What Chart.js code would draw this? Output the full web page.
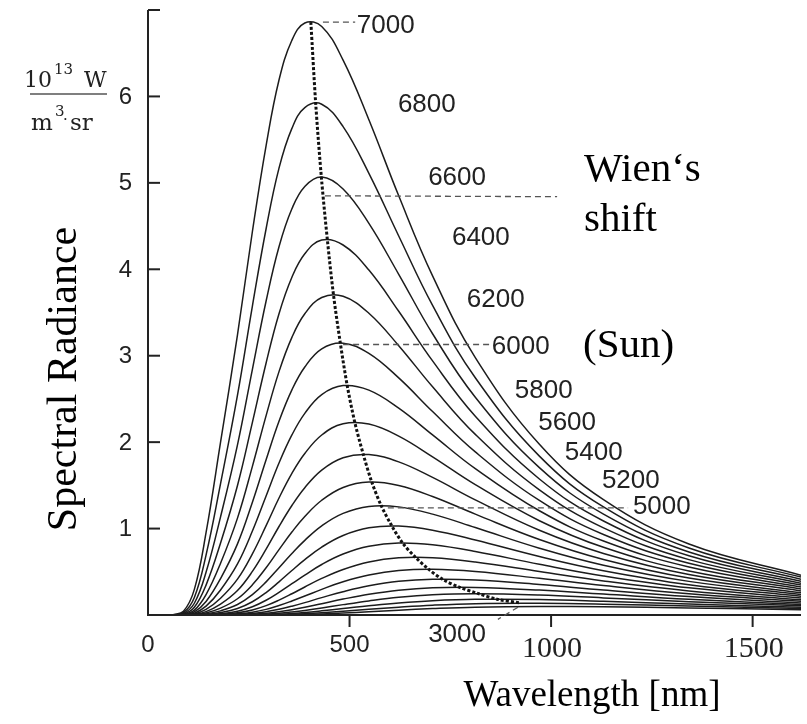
<!DOCTYPE html>
<html>
<head>
<meta charset="utf-8">
<title>Spectral Radiance</title>
<script src="https://cdn.jsdelivr.net/npm/chart.js@4.4.1/dist/chart.umd.min.js"></script>
<style>
    body { margin: 0; background: #ffffff; }
    canvas { display: block; }
</style>
</head>
<body>
<canvas id="myChart" width="807" height="724"></canvas>
<script>
// wavelength positions on the axis (nm), shared by all curves
var wavelengths = [60, 88, 115, 144, 180, 222, 259, 293, 325, 357, 389, 431, 484, 548, 622, 706, 812, 971, 1130, 1342, 1620];

var temperatures = [7000, 6800, 6600, 6400, 6200, 6000, 5800, 5600, 5400, 5200, 5000, 4800, 4600, 4400, 4200, 4000, 3800, 3600, 3400, 3200, 3000];

// radiance in 10^13 W/(m^3 sr), one array per temperature
var k7000 = [0, 0.043, 0.296, 0.952, 2.000, 3.240, 4.437, 5.432, 6.190, 6.650, 6.850, 6.810, 6.420, 5.730, 4.850, 3.924, 2.979, 1.975, 1.334, 0.821, 0.461];
var k6800 = [0, 0.027, 0.203, 0.693, 1.520, 2.544, 3.575, 4.469, 5.170, 5.630, 5.870, 5.910, 5.650, 5.110, 4.385, 3.582, 2.745, 1.838, 1.250, 0.775, 0.438];
var k6600 = [0, 0.017, 0.136, 0.494, 1.136, 1.968, 2.843, 3.633, 4.261, 4.700, 4.959, 5.068, 4.929, 4.531, 3.942, 3.254, 2.519, 1.705, 1.168, 0.729, 0.414];
var k6400 = [0, 0.010, 0.089, 0.346, 0.833, 1.499, 2.229, 2.916, 3.486, 3.908, 4.180, 4.338, 4.281, 3.991, 3.514, 2.940, 2.300, 1.574, 1.088, 0.685, 0.391];
var k6200 = [0, 0.006, 0.056, 0.236, 0.599, 1.121, 1.720, 2.307, 2.816, 3.212, 3.485, 3.674, 3.688, 3.491, 3.116, 2.640, 2.090, 1.448, 1.008, 0.641, 0.368];
var k6000 = [0, 0.003, 0.035, 0.157, 0.422, 0.823, 1.305, 1.797, 2.242, 2.605, 2.870, 3.080, 3.145, 3.027, 2.743, 2.354, 1.887, 1.325, 0.931, 0.598, 0.346];
var k5800 = [0, 0, 0.021, 0.102, 0.290, 0.591, 0.971, 1.377, 1.758, 2.083, 2.333, 2.550, 2.654, 2.602, 2.394, 2.084, 1.693, 1.206, 0.856, 0.556, 0.323];
var k5600 = [0, 0, 0.012, 0.064, 0.194, 0.415, 0.708, 1.034, 1.354, 1.639, 1.869, 2.083, 2.212, 2.209, 2.070, 1.830, 1.508, 1.091, 0.783, 0.510, 0.301];
var k5400 = [0, 0, 0.007, 0.039, 0.126, 0.283, 0.504, 0.761, 1.024, 1.267, 1.473, 1.677, 1.820, 1.856, 1.772, 1.592, 1.332, 0.980, 0.712, 0.469, 0.279];
var k5200 = [0, 0, 0.004, 0.023, 0.079, 0.188, 0.349, 0.547, 0.757, 0.960, 1.140, 1.328, 1.476, 1.538, 1.499, 1.371, 1.167, 0.874, 0.643, 0.428, 0.258];
var k5000 = [0, 0, 0.002, 0.013, 0.048, 0.121, 0.235, 0.383, 0.547, 0.712, 0.864, 1.032, 1.176, 1.256, 1.251, 1.167, 1.012, 0.773, 0.576, 0.389, 0.237];
var k4800 = [0, 0, 0, 0.007, 0.028, 0.075, 0.153, 0.260, 0.384, 0.515, 0.640, 0.786, 0.920, 1.009, 1.029, 0.981, 0.868, 0.677, 0.513, 0.351, 0.217];
var k4600 = [0, 0, 0, 0.003, 0.015, 0.044, 0.096, 0.171, 0.262, 0.362, 0.462, 0.584, 0.705, 0.795, 0.833, 0.812, 0.735, 0.587, 0.452, 0.314, 0.197];
var k4400 = [0, 0, 0, 0.002, 0.008, 0.025, 0.058, 0.108, 0.172, 0.246, 0.324, 0.423, 0.527, 0.614, 0.661, 0.662, 0.613, 0.503, 0.394, 0.279, 0.177];
var k4200 = [0, 0, 0, 0, 0.004, 0.014, 0.033, 0.065, 0.109, 0.162, 0.219, 0.297, 0.384, 0.462, 0.514, 0.529, 0.503, 0.425, 0.340, 0.245, 0.158];
var k4000 = [0, 0, 0, 0, 0.002, 0.007, 0.018, 0.038, 0.066, 0.102, 0.143, 0.201, 0.270, 0.338, 0.390, 0.413, 0.405, 0.353, 0.289, 0.213, 0.140];
var k3800 = [0, 0, 0, 0, 0, 0.003, 0.009, 0.020, 0.038, 0.061, 0.089, 0.131, 0.184, 0.240, 0.287, 0.315, 0.319, 0.288, 0.242, 0.182, 0.122];
var k3600 = [0, 0, 0, 0, 0, 0.001, 0.004, 0.010, 0.020, 0.035, 0.053, 0.081, 0.120, 0.163, 0.204, 0.233, 0.245, 0.230, 0.198, 0.154, 0.106];
var k3400 = [0, 0, 0, 0, 0, 0, 0.002, 0.005, 0.010, 0.018, 0.029, 0.048, 0.074, 0.107, 0.140, 0.166, 0.182, 0.179, 0.159, 0.127, 0.090];
var k3200 = [0, 0, 0, 0, 0, 0, 0, 0.002, 0.005, 0.009, 0.015, 0.026, 0.043, 0.066, 0.091, 0.114, 0.131, 0.135, 0.125, 0.103, 0.075];
var k3000 = [0, 0, 0, 0, 0, 0, 0, 0.001, 0.002, 0.004, 0.007, 0.013, 0.023, 0.038, 0.056, 0.074, 0.090, 0.098, 0.095, 0.081, 0.061];

// Wien's shift: maxima of the curves (7000 K down to 3200 K)
var wienX = [404, 416, 430, 445, 460, 477, 494, 513, 534, 555, 579, 605, 632, 663, 696, 732, 773, 818, 868, 924];
var wienY = [6.86, 5.92, 5.07, 4.34, 3.71, 3.15, 2.66, 2.23, 1.86, 1.54, 1.26, 1.03, 0.83, 0.67, 0.53, 0.41, 0.32, 0.25, 0.18, 0.14];

// axis ticks
var xTicks = [0, 500, 1000, 1500];
var xTickLabels = ['0', '500', '1000', '1500'];
var yTicks = [1, 2, 3, 4, 5, 6, 7];
var yTickLabels = ['1', '2', '3', '4', '5', '6', ''];

// temperature labels next to the curves
var tempLabels = ['7000', '6800', '6600', '6400', '6200', '6000', '5800', '5600', '5400', '5200', '5000', '3000'];
var tempLabelX = [518, 620, 695, 754, 791, 853, 910, 968, 1034, 1126, 1203, 695];
var tempLabelY = [6.83, 5.91, 5.07, 4.37, 3.66, 3.12, 2.60, 2.23, 1.89, 1.56, 1.26, -0.22];

// dashed leader lines
var leaderX1 = [434, 439, 484, 595, 918];
var leaderX2 = [514, 1015, 848, 1191, 868];
var leaderY1 = [6.86, 4.85, 3.13, 1.24, 0.09];
var leaderY2 = [6.86, 4.84, 3.13, 1.24, -0.05];

var curves = [k7000, k6800, k6600, k6400, k6200, k6000, k5800, k5600, k5400, k5200, k5000,
              k4800, k4600, k4400, k4200, k4000, k3800, k3600, k3400, k3200, k3000];

var datasets = [];
var wienPts = [];
for (var w = 0; w < wienX.length; w++) {
    wienPts.push({x: wienX[w], y: wienY[w]});
}
datasets.push({
    label: 'Wien',
    data: wienPts,
    borderColor: '#111111',
    borderWidth: 3,
    borderDash: [3, 2],
    tension: 0.3,
    pointRadius: 0,
    fill: false
});
for (var i = 0; i < curves.length; i++) {
    var pts = [];
    for (var j = 0; j < wavelengths.length; j++) {
        pts.push({x: wavelengths[j], y: curves[i][j]});
    }
    datasets.push({
        label: temperatures[i] + ' K',
        data: pts,
        borderColor: '#1c1c1c',
        borderWidth: 1.5,
        tension: 0.4,
        pointRadius: 0,
        fill: false
    });
}

var sansFont = '"Liberation Sans", Arial, sans-serif';
var serifFont = '"Liberation Serif", "Times New Roman", serif';
var unitFont = '"DejaVu Serif", serif';

var deko = {
    id: 'deko',
    afterDatasetsDraw: function (chart) {
        var c = chart.ctx;
        var sx = chart.scales.x;
        var sy = chart.scales.y;
        var x0 = sx.getPixelForValue(0);
        var y0 = sy.getPixelForValue(0);
        var k;
        c.save();

        // axes
        c.strokeStyle = '#222222';
        c.lineWidth = 2;
        c.setLineDash([]);
        c.beginPath();
        c.moveTo(x0, sy.getPixelForValue(7));
        c.lineTo(x0, y0);
        c.lineTo(sx.getPixelForValue(1620), y0);
        c.stroke();

        c.fillStyle = '#222222';
        c.textBaseline = 'middle';
        c.font = '24px ' + sansFont;
        c.textAlign = 'right';
        for (k = 0; k < yTicks.length; k++) {
            var ty = sy.getPixelForValue(yTicks[k]);
            c.beginPath();
            c.moveTo(x0, ty);
            c.lineTo(x0 + 12, ty);
            c.stroke();
            c.fillText(yTickLabels[k], x0 - 16, ty + 1);
        }

        c.textAlign = 'center';
        for (k = 0; k < xTicks.length; k++) {
            var tx = sx.getPixelForValue(xTicks[k]);
            if (xTicks[k] > 0) {
                c.beginPath();
                c.moveTo(tx, y0);
                c.lineTo(tx, y0 + 12);
                c.stroke();
            }
            if (xTicks[k] >= 1000) {
                c.font = '30px ' + serifFont;
                c.fillText(xTickLabels[k], tx + 1, y0 + 34);
            } else {
                c.font = '24px ' + sansFont;
                c.fillText(xTickLabels[k], tx, y0 + 30);
            }
        }

        // dashed leaders
        c.strokeStyle = '#555555';
        c.lineWidth = 1.3;
        c.setLineDash([6, 4]);
        for (k = 0; k < leaderX1.length; k++) {
            c.beginPath();
            c.moveTo(sx.getPixelForValue(leaderX1[k]), sy.getPixelForValue(leaderY1[k]));
            c.lineTo(sx.getPixelForValue(leaderX2[k]), sy.getPixelForValue(leaderY2[k]));
            c.stroke();
        }
        c.setLineDash([]);

        // temperature labels
        c.fillStyle = '#222222';
        c.font = '26px ' + sansFont;
        c.textAlign = 'left';
        c.textBaseline = 'middle';
        for (k = 0; k < tempLabels.length; k++) {
            c.fillText(tempLabels[k], sx.getPixelForValue(tempLabelX[k]), sy.getPixelForValue(tempLabelY[k]) + 1);
        }

        // unit 10^13 W / m^3 sr
        c.fillStyle = '#222222';
        c.textBaseline = 'alphabetic';
        c.font = '22px ' + unitFont;
        c.fillText('10', 24, 87);
        c.fillText('W', 84, 87);
        c.font = '23px ' + unitFont;
        c.fillText('m', 31, 130);
        c.fillText('sr', 70, 130);
        c.font = '15px ' + unitFont;
        c.fillText('13', 54, 74);
        c.fillText('3', 55, 116);
        c.fillText('\u00b7', 63, 124);
        c.lineWidth = 1.5;
        c.beginPath();
        c.moveTo(30, 94);
        c.lineTo(107, 94);
        c.stroke();

        // titles and notes
        c.fillStyle = '#000000';
        c.font = '41px ' + serifFont;
        c.textAlign = 'left';
        c.fillText('Wien\u2018s', 584, 181);
        c.fillText('shift', 584, 231);
        c.fillText('(Sun)', 583, 357);

        c.font = '37px ' + serifFont;
        c.textAlign = 'center';
        c.fillText('Wavelength [nm]', 592, 706);

        c.save();
        c.translate(76, 379);
        c.rotate(-Math.PI / 2);
        c.font = '42px ' + serifFont;
        c.textAlign = 'center';
        c.fillText('Spectral Radiance', 0, 0);
        c.restore();

        c.restore();
    }
};

new Chart(document.getElementById('myChart'), {
    type: 'line',
    data: { datasets: datasets },
    options: {
        responsive: false,
        animation: false,
        layout: { padding: { left: 148, top: 10, right: 6, bottom: 109 } },
        plugins: {
            legend: { display: false },
            tooltip: { enabled: false }
        },
        scales: {
            x: { type: 'linear', min: 0, max: 1620, display: false },
            y: { type: 'linear', min: 0, max: 7, display: false }
        }
    },
    plugins: [deko]
});
</script>
</body>
</html>
